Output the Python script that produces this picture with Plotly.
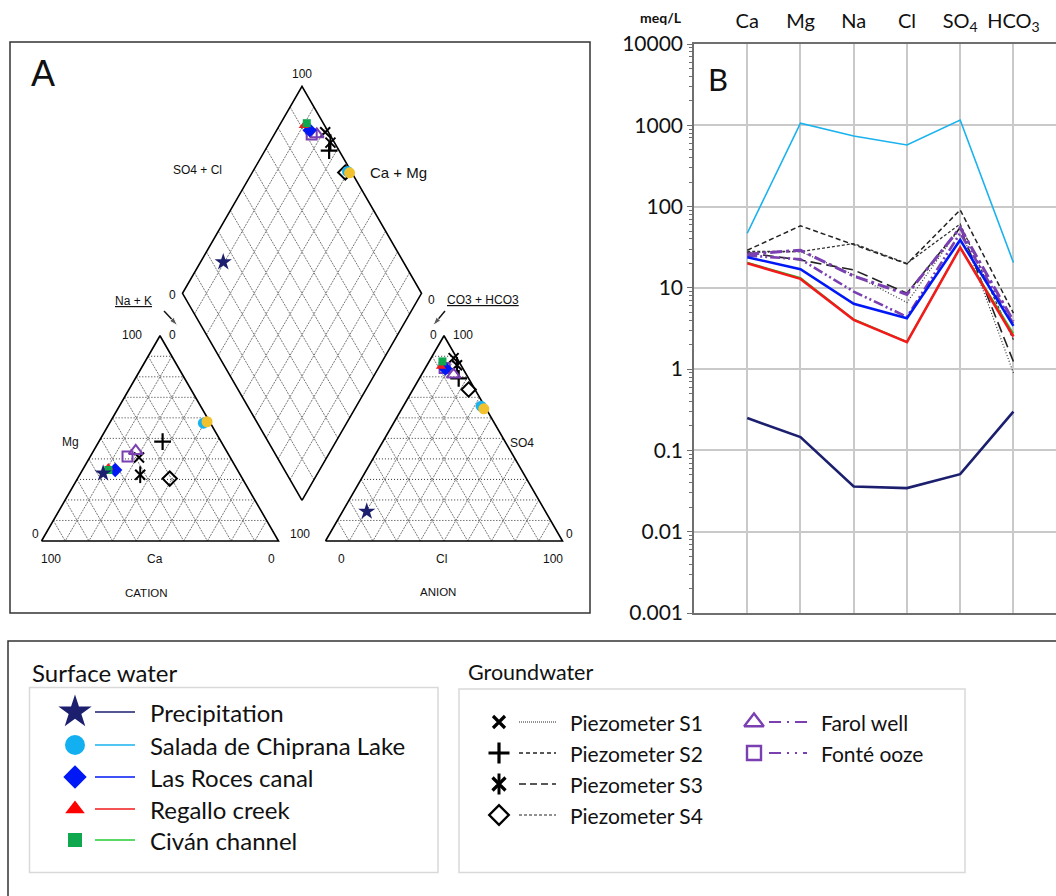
import numpy as np
import plotly.graph_objects as go

W, H = 1056, 896

# ---------------- DATA ----------------
samples = ["Precipitation", "Salada de Chiprana Lake", "Salada de Chiprana Lake (b)",
           "Las Roces canal", "Regallo creek", "Civán channel",
           "Piezometer S1", "Piezometer S2", "Piezometer S3", "Piezometer S4",
           "Farol well", "Fonté ooze"]

# Piper diagram, % of meq (cations)
cat_ca = [57.5, 3.0, 1.1, 51.6, 53.9, 54.5, 38.5, 24.7, 42.2, 30.7, 38.3, 43.1]
cat_mg = [33.0, 57.4, 58.1, 34.6, 35.8, 34.6, 40.7, 48.4, 32.3, 30.4, 43.9, 41.2]
cat_nak = [9.5, 39.6, 40.8, 13.8, 10.3, 10.9, 20.8, 26.9, 25.5, 38.9, 17.8, 15.7]
# Piper diagram, % of meq (anions)
an_hco3 = [75.4, 1.5, 1.0, 7.4, 8.8, 6.9, 1.4, 4.2, 1.7, 2.7, 5.4, 7.6]
an_so4 = [14.4, 65.7, 64.4, 84.0, 85.0, 87.5, 89.1, 79.2, 85.6, 73.8, 81.1, 84.3]
an_cl = [10.2, 32.8, 34.6, 8.6, 6.2, 5.6, 9.5, 16.6, 12.7, 23.5, 13.5, 8.1]

# Schoeller diagram (meq/L)
ions = ["Ca", "Mg", "Na", "Cl", "SO<sub>4</sub>", "HCO<sub>3</sub>"]
sch_precipitation = [0.25, 0.146, 0.036, 0.0344, 0.051, 0.30]
sch_lake = [47, 1060, 738, 572, 1160, 20.5]
sch_roces = [23.8, 17.0, 6.36, 4.24, 38.9, 3.4]
sch_regallo = [20.1, 12.9, 4.04, 2.15, 31.3, 2.52]
sch_civan = [20.5, 13.3, 4.1, 2.18, 31.5, 2.75]
sch_s1 = [27, 28, 14.5, 6.6, 55, 0.9]
sch_s2 = [29, 58, 34, 19.7, 91, 4.9]
sch_s3 = [27, 22, 16.6, 8.6, 55, 1.24]
sch_s4 = [28, 28, 35, 20, 61, 2.3]
sch_farol = [26, 29, 14, 8.3, 55, 3.9]
sch_fonte = [25, 22.5, 9, 4.4, 47, 3.6]

y_ticks = [0.001, 0.01, 0.1, 1, 10, 100, 1000, 10000]
y_ticktext = ["0.001", "0.01", "0.1", "1", "10", "100", "1000", "10000"]

# ---------------- STYLES ----------------
NAVY = "#1B1F6E"
LBLUE = "#19B2EE"
BLUE = "#0018F5"
RED = "#F21A1A"
GREEN = "#10A84E"
GREENL = "#22CC33"
PURPLE = "#7A3FB0"
GOLD = "#F2C12E"

mstyle = {
    "Precipitation": dict(symbol="star", color=NAVY, size=13, lw=0),
    "Salada de Chiprana Lake": dict(symbol="circle", color=LBLUE, size=11, lw=0),
    "Salada de Chiprana Lake (b)": dict(symbol="circle", color=GOLD, size=11, lw=0),
    "Las Roces canal": dict(symbol="diamond", color=BLUE, size=11, lw=0),
    "Regallo creek": dict(symbol="triangle-up", color=RED, size=9, lw=0),
    "Civán channel": dict(symbol="square", color=GREEN, size=8, lw=0),
    "Piezometer S1": dict(symbol="x-thin-open", color="black", size=10, lw=2),
    "Piezometer S2": dict(symbol="cross-thin-open", color="black", size=12, lw=2.2),
    "Piezometer S3": dict(symbol="x-thin-open", color="black", size=10, lw=2),
    "Piezometer S4": dict(symbol="diamond-open", color="black", size=11, lw=2),
    "Farol well": dict(symbol="triangle-up-open", color=PURPLE, size=12, lw=2),
    "Fonté ooze": dict(symbol="square-open", color=PURPLE, size=10, lw=2),
}
# draw order for piper markers
piper_order = ["Piezometer S1", "Piezometer S2", "Piezometer S3", "Piezometer S4",
               "Salada de Chiprana Lake", "Salada de Chiprana Lake (b)",
               "Farol well", "Fonté ooze", "Las Roces canal", "Regallo creek",
               "Civán channel", "Precipitation"]

lstyle = {
    "Salada de Chiprana Lake": (sch_lake, LBLUE, 1.6, "solid"),
    "Piezometer S1": (sch_s1, "#333333", 1.2, "1px,2px"),
    "Piezometer S2": (sch_s2, "#222222", 1.5, "5px,3px"),
    "Piezometer S3": (sch_s3, "#222222", 1.6, "11px,5px"),
    "Piezometer S4": (sch_s4, "#333333", 1.3, "3px,2px"),
    "Fonté ooze": (sch_fonte, PURPLE, 2.6, "10px,3px,2px,3px,2px,3px"),
    "Farol well": (sch_farol, PURPLE, 3.0, "12px,4px,3px,4px"),
    "Civán channel": (sch_civan, GREENL, 1.6, "solid"),
    "Regallo creek": (sch_regallo, RED, 2.6, "solid"),
    "Las Roces canal": (sch_roces, BLUE, 2.6, "solid"),
    "Precipitation": (sch_precipitation, NAVY, 2.6, "solid"),
}

# ---------------- PIPER GEOMETRY (pixel layout) ----------------
S = 237.0          # triangle side
BASE = 541.0       # baseline of triangles
CX0 = 41.5         # left corner of cation triangle
GAP = 47.0
AX0 = CX0 + S + GAP
H3 = np.sqrt(3) / 2
DS = 239.0         # diamond side
DBX = CX0 + S + GAP / 2
DBY = BASE - GAP * H3


def cation_xy(ca, mg, na):
    t = ca + mg + na
    mg, na = mg / t, na / t
    return CX0 + S * (na + mg / 2), BASE - S * H3 * mg


def anion_xy(hco3, so4, cl):
    t = hco3 + so4 + cl
    so4, cl = so4 / t, cl / t
    return AX0 + S * (cl + so4 / 2), BASE - S * H3 * so4


def diamond_xy(camg, so4cl):
    return DBX + DS / 2 * (so4cl - camg), DBY - DS * H3 * (camg + so4cl)


fig = go.Figure()


def add_lines(segs, color, width, dash):
    xs, ys = [], []
    for (x0, y0), (x1, y1) in segs:
        xs += [x0, x1, None]
        ys += [y0, y1, None]
    fig.add_trace(go.Scatter(x=xs, y=ys, mode="lines", xaxis="x", yaxis="y",
                             line=dict(color=color, width=width, dash=dash),
                             hoverinfo="skip", showlegend=False))


fr = [k / 10 for k in range(1, 10)]
# cation triangle grid
add_lines([(cation_xy(1 - f, f, 0), cation_xy(0, f, 1 - f)) for f in fr], "#333333", 1, "1px,2px")
add_lines([(cation_xy(f, 1 - f, 0), cation_xy(f, 0, 1 - f)) for f in fr] +
          [(cation_xy(0, 1 - f, f), cation_xy(1 - f, 0, f)) for f in fr], "#777777", 1, "2px,1px")
# anion triangle grid
add_lines([(anion_xy(1 - f, f, 0), anion_xy(0, f, 1 - f)) for f in fr], "#333333", 1, "1px,2px")
add_lines([(anion_xy(f, 1 - f, 0), anion_xy(f, 0, 1 - f)) for f in fr] +
          [(anion_xy(0, 1 - f, f), anion_xy(1 - f, 0, f)) for f in fr], "#777777", 1, "2px,1px")
# diamond grid
add_lines([(diamond_xy(f, 0), diamond_xy(f, 1)) for f in fr] +
          [(diamond_xy(0, f), diamond_xy(1, f)) for f in fr], "#777777", 1, "2px,1px")

# outlines
for pts in ([cation_xy(100, 0, 0), cation_xy(0, 0, 100), cation_xy(0, 100, 0), cation_xy(100, 0, 0)],
            [anion_xy(100, 0, 0), anion_xy(0, 0, 100), anion_xy(0, 100, 0), anion_xy(100, 0, 0)],
            [diamond_xy(0, 0), diamond_xy(1, 0), diamond_xy(1, 1), diamond_xy(0, 1), diamond_xy(0, 0)]):
    fig.add_trace(go.Scatter(x=[p[0] for p in pts], y=[p[1] for p in pts], mode="lines",
                             xaxis="x", yaxis="y", line=dict(color="black", width=1.6),
                             hoverinfo="skip", showlegend=False))

# piper points
for name in piper_order:
    i = samples.index(name)
    st = mstyle[name]
    cx, cy = cation_xy(cat_ca[i], cat_mg[i], cat_nak[i])
    ax_, ay_ = anion_xy(an_hco3[i], an_so4[i], an_cl[i])
    camg = (cat_ca[i] + cat_mg[i]) / (cat_ca[i] + cat_mg[i] + cat_nak[i])
    so4cl = (an_so4[i] + an_cl[i]) / (an_hco3[i] + an_so4[i] + an_cl[i])
    dx, dy = diamond_xy(camg, so4cl)
    open_sym = st["lw"] > 0
    fig.add_trace(go.Scatter(
        x=[cx, ax_, dx], y=[cy, ay_, dy], mode="markers", xaxis="x", yaxis="y",
        marker=dict(symbol=st["symbol"], size=st["size"],
                    color=st["color"],
                    line=dict(color=st["color"], width=st["lw"] if open_sym else 0)),
        name=name, showlegend=False))
    if name == "Piezometer S3":
        fig.add_trace(go.Scatter(
            x=[cx, ax_, dx], y=[cy, ay_, dy], mode="markers", xaxis="x", yaxis="y",
            marker=dict(symbol="line-ns-open", size=12, color="black", line=dict(color="black", width=2)),
            hoverinfo="skip", showlegend=False))

# ---------------- SCHOELLER ----------------
xcat = list(range(1, len(ions) + 1))
for name, (vals, color, width, dash) in lstyle.items():
    fig.add_trace(go.Scatter(x=xcat, y=vals, mode="lines", xaxis="x2", yaxis="y2",
                             line=dict(color=color, width=width, dash=dash),
                             name=name, showlegend=False))

# ---------------- LEGEND GLYPHS ----------------
surf_names = ["Precipitation", "Salada de Chiprana Lake", "Las Roces canal", "Regallo creek", "Civán channel"]
surf_y = [712, 745, 777, 809, 840]
surf_msize = [25, 20, 18, 17, 14]
surf_lcol = [NAVY, LBLUE, BLUE, RED, GREENL]
ground_names = ["Piezometer S1", "Piezometer S2", "Piezometer S3", "Piezometer S4", "Farol well", "Fonté ooze"]
ground_pos = [(499, 722), (499, 753), (499, 784), (499, 815), (754, 722), (754, 753)]
ground_msize = [12, 15, 13, 15, 17, 14]
ground_dash = ["1px,1px", "4px,3px", "7px,4px", "3px,2px", "12px,6px,2px,6px", "12px,6px,2px,6px,2px,6px"]
ground_lw = [1, 1.3, 1.5, 1.2, 2, 2]

leg_sym_surf = {"Precipitation": "star", "Salada de Chiprana Lake": "circle", "Las Roces canal": "diamond",
                "Regallo creek": "triangle-up", "Civán channel": "square"}
leg_col_surf = {"Precipitation": NAVY, "Salada de Chiprana Lake": "#12B0F0", "Las Roces canal": BLUE,
                "Regallo creek": "#FF0000", "Civán channel": GREEN}
annotations = []
for n, y, ms, lc in zip(surf_names, surf_y, surf_msize, surf_lcol):
    fig.add_trace(go.Scatter(x=[75], y=[y], mode="markers", xaxis="x", yaxis="y",
                             marker=dict(symbol=leg_sym_surf[n], size=ms, color=leg_col_surf[n]),
                             hoverinfo="skip", showlegend=False))
    fig.add_trace(go.Scatter(x=[95, 135], y=[y, y], mode="lines", xaxis="x", yaxis="y",
                             line=dict(color=lc, width=1.6), hoverinfo="skip", showlegend=False))
    annotations.append(dict(x=148, y=y, text=n, xref="x", yref="y", xanchor="left", yanchor="middle",
                            showarrow=False, font=dict(family="Lato", size=24, color="#111111")))

for n, (mx, y), ms, dsh, lw in zip(ground_names, ground_pos, ground_msize, ground_dash, ground_lw):
    st = mstyle[n]
    col = st["color"]
    lwm = 3.2 if col == "black" else 2.4
    fig.add_trace(go.Scatter(x=[mx], y=[y], mode="markers", xaxis="x", yaxis="y",
                             marker=dict(symbol=st["symbol"], size=ms, color=col,
                                         line=dict(color=col, width=lwm if n != "Piezometer S4" else 2.4)),
                             hoverinfo="skip", showlegend=False))
    if n == "Piezometer S3":
        fig.add_trace(go.Scatter(x=[mx], y=[y], mode="markers", xaxis="x", yaxis="y",
                                 marker=dict(symbol="line-ns-open", size=15, color=col,
                                             line=dict(color=col, width=3)),
                                 hoverinfo="skip", showlegend=False))
    x0 = mx + 20 if mx < 600 else mx + 15
    x1 = mx + 57 if mx < 600 else mx + 53
    fig.add_trace(go.Scatter(x=[x0, x1], y=[y, y], mode="lines", xaxis="x", yaxis="y",
                             line=dict(color=col if col != "black" else "#222222", width=lw, dash=dsh),
                             hoverinfo="skip", showlegend=False))
    tx = 568 if mx < 600 else 819
    annotations.append(dict(x=tx, y=y, text=n, xref="x", yref="y", xanchor="left", yanchor="middle",
                            showarrow=False, font=dict(family="Lato", size=21, color="#111111")))

annotations.append(dict(x=30, y=672, text="Surface water", xref="x", yref="y", xanchor="left",
                        yanchor="middle", showarrow=False, font=dict(family="Lato", size=24, color="#111111")))
annotations.append(dict(x=466, y=672, text="Groundwater", xref="x", yref="y", xanchor="left",
                        yanchor="middle", showarrow=False, font=dict(family="Lato", size=21.5, color="#111111")))

# ---------------- PANEL A TEXT ----------------
AF = "Liberation Sans"


def lab(x, y, t, size=12, anchor="center"):
    annotations.append(dict(x=x, y=y, text=t, xref="x", yref="y", xanchor=anchor, yanchor="middle",
                            showarrow=False, font=dict(family=AF, size=size, color="#111111")))


lab(42.5, 73, "A", 36)
lab(301.7, 74, "100")
lab(197, 170, "SO4 + Cl", 12)
lab(398, 172, "Ca + Mg", 15)
lab(172, 295, "0")
lab(431, 300, "0")
lab(133, 301, "<u>Na + K</u>")
lab(483, 300, "<u>CO3 + HCO3</u>")
lab(131.5, 335, "100")
lab(172, 335, "0")
lab(433, 335, "0")
lab(463, 335, "100")
lab(70, 441.5, "Mg")
lab(522, 442.5, "SO4")
lab(35.5, 533.5, "0")
lab(299.5, 533.5, "100")
lab(569, 534, "0")
lab(50.5, 558.5, "100")
lab(154.5, 558.5, "Ca")
lab(271, 558.5, "0")
lab(341, 558.5, "0")
lab(441, 558.5, "Cl")
lab(552.5, 558.5, "100")
lab(146, 593, "CATION", 11.5)
lab(437.5, 592, "ANION", 11.5)

# arrows (line + arrowhead marker)
for (tx_, ty_, hx, hy) in [(164, 311, 177.5, 325.5), (445, 311, 433, 325.5)]:
    fig.add_trace(go.Scatter(x=[tx_, hx], y=[ty_, hy], mode="lines+markers", xaxis="x", yaxis="y",
                             line=dict(color="#111111", width=1.4),
                             marker=dict(symbol="arrow", size=[0, 9], angleref="previous",
                                         color="#111111"),
                             hoverinfo="skip", showlegend=False))

# ---------------- PANEL B TEXT ----------------
annotations.append(dict(x=661, y=17, text="<b>meq/L</b>", xref="x", yref="y", showarrow=False,
                        font=dict(family="Lato", size=14, color="#111111")))
annotations.append(dict(x=718, y=79, text="B", xref="x", yref="y", showarrow=False,
                        font=dict(family="Lato", size=31, color="#111111")))

shapes = [
    dict(type="rect", xref="x", yref="y", x0=10, y0=42, x1=590, y1=613,
         line=dict(color="#333333", width=1.5), layer="below"),
    dict(type="rect", xref="x", yref="y", x0=8, y0=641, x1=1070, y1=910,
         line=dict(color="#333333", width=1.5), layer="below"),
    dict(type="rect", xref="x", yref="y", x0=29.5, y0=687.5, x1=438, y1=872.5,
         line=dict(color="#d9d9d9", width=1.5), layer="below"),
    dict(type="rect", xref="x", yref="y", x0=459, y0=689, x1=965, y1=872.5,
         line=dict(color="#d9d9d9", width=1.5), layer="below"),
]

minor_vals = [m * 10.0 ** k for k in range(-3, 4) for m in range(2, 10)]

fig.update_layout(
    width=W, height=H, margin=dict(l=0, r=0, t=0, b=0, autoexpand=False),
    paper_bgcolor="white", plot_bgcolor="rgba(0,0,0,0)", showlegend=False,
    xaxis=dict(domain=[0, 1], range=[0, W], visible=False, fixedrange=True, automargin=False),
    yaxis=dict(domain=[0, 1], range=[H, 0], visible=False, fixedrange=True, automargin=False),
    xaxis2=dict(domain=[694 / W, 1], range=[0, 6.8], anchor="y2", side="top", automargin=False,
                tickmode="array", tickvals=xcat, ticktext=ions, ticks="",
                ticklabelstandoff=6,
                tickfont=dict(family="Lato", size=20, color="#111111"),
                showgrid=True, gridcolor="#c9c9c9", gridwidth=1.5, zeroline=False,
                showline=True, linecolor="#6f6f6f", linewidth=1.5, mirror=True),
    yaxis2=dict(domain=[1 - 613 / H, 1 - 44 / H], type="log", range=[-3, 4], anchor="x2",
                automargin=False,
                tickmode="array", tickvals=y_ticks, ticktext=y_ticktext,
                tickfont=dict(family="Lato", size=21, color="#111111"),
                ticks="outside", ticklen=5, tickcolor="#6f6f6f", ticklabelstandoff=0,
                showgrid=True, gridcolor="#c9c9c9", gridwidth=1.5, zeroline=False,
                showline=True, linecolor="#6f6f6f", linewidth=1.5,
                minor=dict(tickmode="array", tickvals=minor_vals, ticks="outside",
                           ticklen=3, tickcolor="#6f6f6f", showgrid=False)),
    annotations=annotations, shapes=shapes,
)

fig.write_html("out.html", config={"displayModeBar": False},
               post_script="document.body.style.margin='0px';document.body.style.padding='0px';")
